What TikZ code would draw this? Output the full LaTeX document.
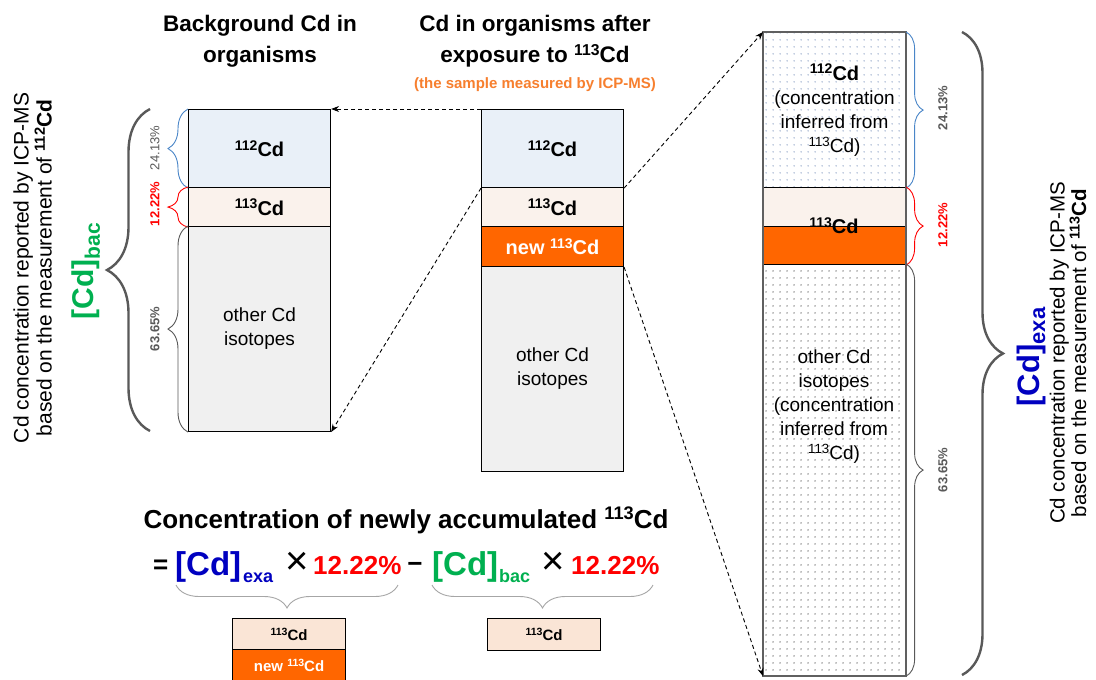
\documentclass[tikz,border=0pt]{standalone}
\usepackage{fontspec}
\setmainfont{Liberation Sans}
\usetikzlibrary{decorations.pathreplacing,arrows.meta,patterns}
\definecolor{c112}{HTML}{E9F0F8}
\definecolor{c113}{HTML}{FAF2EC}
\definecolor{c113b}{HTML}{FAE5D6}
\definecolor{cother}{HTML}{F0F0F0}
\definecolor{corange}{HTML}{FF6600}
\definecolor{csub}{HTML}{F77F2E}
\definecolor{cdblue}{HTML}{0000C0}
\definecolor{cdgreen}{HTML}{00B050}
\definecolor{cdred}{HTML}{FF0000}
\definecolor{bgrey}{HTML}{595959}
\definecolor{fgrey}{HTML}{A6A6A6}
\definecolor{lgrey}{HTML}{595959}
\definecolor{bblue}{HTML}{4A86C8}
\definecolor{dotblue}{HTML}{5A78AA}
\definecolor{dotgrey}{HTML}{404040}
\definecolor{rborder}{HTML}{606060}
\pgfdeclarepatternformonly{cddots}{\pgfqpoint{0pt}{0pt}}{\pgfqpoint{7pt}{7pt}}{\pgfqpoint{7pt}{7pt}}{\pgfpathcircle{\pgfqpoint{3.5pt}{3.5pt}}{0.75pt}\pgfusepath{fill}}
\newcommand\fsz[2]{\fontsize{#1pt}{#2pt}\selectfont}
\makeatletter
\newcommand\iso[1]{\raisebox{0.32em}{\fontsize{\strip@pt\dimexpr0.7\dimexpr\f@size pt\relax\relax}{0}\selectfont #1}}
\makeatother
\begin{document}
\begin{tikzpicture}[x=1pt,y=-1pt,
  seg/.style={draw=black, line width=1.1pt, minimum width=142pt, inner sep=0pt, anchor=north west, align=center, font=\fsz{19}{24}},
  bseg/.style={draw=black, line width=1.1pt, minimum width=113pt, inner sep=0pt, anchor=north west, align=center, font=\fsz{15}{15}\bfseries},
  conn/.style={draw=black, line width=0.9pt, dash pattern=on 4pt off 3pt, -{Stealth[length=8pt,width=6pt]}},
  bigbrace/.style={decorate, decoration={brace, amplitude=#1}, draw=bgrey, line width=2.4pt},
  smallbrace/.style={decorate, decoration={brace, amplitude=#1}, line width=0.9pt},
  fbrace/.style={decorate, decoration={brace, amplitude=23pt}, draw=fgrey, line width=0.9pt},
  pct/.style={rotate=90, inner sep=0pt, font=\fsz{13}{13}},
  title/.style={align=center, inner sep=0pt, font=\fsz{22.5}{31}\bfseries},
  side/.style={rotate=90, align=center, inner sep=0pt, font=\fsz{21}{23}},
  term/.style={anchor=base west, inner sep=0pt, font=\bfseries},
]
\fill[white] (0,0) rectangle (1096,680);
\useasboundingbox (0,0) rectangle (1096,680);

% titles
\node[title] (t1) at (260,41.5) {Background Cd in\\organisms};
\node[title] (t2) at (535,41.5) {Cd in organisms after\\exposure to \iso{113}Cd};
\node[anchor=base, inner sep=0pt, text=csub, font=\fsz{15}{15}\bfseries] (t2s) at (535,88) {(the sample measured by ICP-MS)};

% left box
\node[seg, fill=c112, minimum height=78pt] (l112) at (188,109) {\textbf{\fsz{20}{24}\iso{112}Cd}};
\node[seg, fill=c113, minimum height=39pt] (l113) at (188,187) {\textbf{\fsz{20}{24}\iso{113}Cd}};
\node[seg, fill=cother, minimum height=205pt] (lother) at (188,226) {other Cd\\isotopes};

% middle box
\node[seg, fill=c112, minimum height=78pt] (m112) at (481,109) {\textbf{\fsz{20}{24}\iso{112}Cd}};
\node[seg, fill=c113, minimum height=39pt] (m113) at (481,187) {\textbf{\fsz{20}{24}\iso{113}Cd}};
\node[seg, fill=corange, minimum height=40pt, text=white] (mnew) at (481,226) {\textbf{\fsz{20}{24}new \iso{113}Cd}};
\node[seg, fill=cother, minimum height=205pt] (mother) at (481,266) {other Cd\\isotopes};

% right box
\node[seg, preaction={fill=white}, pattern=cddots, pattern color=dotblue, minimum height=155pt] (r112) at (763,32) {\textbf{\fsz{20}{24}\iso{112}Cd}\\(concentration\\inferred from\\\iso{113}Cd)};
\node[seg, fill=c113, minimum height=39pt] (r113) at (763,187) {};
\node[seg, fill=corange, minimum height=38pt] (rnew) at (763,226) {};
\node[seg, preaction={fill=white}, pattern=cddots, pattern color=dotgrey, minimum height=411pt] (rother) at (763,264) {};
\draw[rborder, line width=1.6pt] (r112.north west) rectangle (rother.south east);
\node[inner sep=0pt, font=\fsz{20}{20}\bfseries] (rlab) at (834,226) {\iso{113}Cd};
\node[inner sep=0pt, align=center, font=\fsz{19}{24}] (rotxt) at (834,407) {other Cd\\isotopes\\(concentration\\inferred from\\\iso{113}Cd)};

% dashed connectors
\draw[conn] (m112.north west) -- (l112.north east);
\draw[conn] (m112.south west) -- (lother.south east);
\draw[conn] (m112.south east) -- (r112.north west);
\draw[conn] (mnew.south east) -- (rother.south west);

% left braces
\draw[smallbrace=20pt, draw=bblue] (l112.south west) -- (l112.north west);
\draw[smallbrace=20pt, draw=cdred] (l113.south west) -- (l113.north west);
\draw[smallbrace=20pt, draw=bgrey] (lother.south west) -- (lother.north west);
\node[pct, text=lgrey] (lp1) at (155,148) {24.13\%};
\node[pct, text=cdred, font=\fsz{13}{13}\bfseries] (lp2) at (155,204) {12.22\%};
\node[pct, text=lgrey, font=\fsz{13}{13}\bfseries] (lp3) at (155,329) {63.65\%};
\coordinate (lbt) at (150,109);
\coordinate (lbb) at (150,431);
\draw[bigbrace=43pt] (lbb) -- (lbt);
\node[rotate=90, inner sep=0pt, text=cdgreen, font=\bfseries] (bacl) at (86,271) {\fsz{30}{30}[Cd]\raisebox{-6pt}{\fsz{21}{21}bac}};
\node[side] (ltxt) at (32.5,268) {Cd concentration reported by ICP-MS\\based on the measurement of \textbf{\iso{112}Cd}};

% right braces
\draw[smallbrace=17pt, draw=bblue] (r112.north east) -- (r112.south east);
\draw[smallbrace=17pt, draw=cdred] (r113.north east) -- (rnew.south east);
\draw[smallbrace=17pt, draw=bgrey] (rother.north east) -- (rother.south east);
\node[pct, text=lgrey, font=\fsz{13}{13}\bfseries] (rp1) at (943,108) {24.13\%};
\node[pct, text=cdred, font=\fsz{13}{13}\bfseries] (rp2) at (943,225) {12.22\%};
\node[pct, text=lgrey, font=\fsz{13}{13}\bfseries] (rp3) at (943,470) {63.65\%};
\coordinate (rbt) at (962,32);
\coordinate (rbb) at (962,675);
\draw[bigbrace=41pt] (rbt) -- (rbb);
\node[rotate=90, inner sep=0pt, text=cdblue, font=\bfseries] (exar) at (1031,357) {\fsz{31}{31}[Cd]\raisebox{-6pt}{\fsz{22}{22}exa}};
\node[side, font=\fsz{20.5}{21.5}] (rtxt) at (1068,353) {Cd concentration reported by ICP-MS\\based on the measurement of \textbf{\iso{113}Cd}};

% formula
\node[anchor=base, inner sep=0pt, font=\fsz{26}{26}\bfseries] (head) at (406,528) {Concentration of newly accumulated \iso{113}Cd};
\node[term, font=\fsz{26}{26}\bfseries] (eq) at (153,573) {=};
\node[term, text=cdblue, font=\fsz{33}{33}\bfseries] (cdexa) at (175,575) {[Cd]};
\node[term, text=cdblue, font=\fsz{18}{18}\bfseries] (exa) at (243,582) {exa};
\node[inner sep=0pt, font=\fsz{40}{40}] (times1) at (297,563) {×};
\node[term, text=cdred, font=\fsz{26}{26}\bfseries] (pcta) at (313,574) {12.22\%};
\node[inner sep=0pt, font=\fsz{26}{26}\bfseries] (minus) at (415,567) {−};
\node[term, text=cdgreen, font=\fsz{33}{33}\bfseries] (cdbac) at (432,575) {[Cd]};
\node[term, text=cdgreen, font=\fsz{18}{18}\bfseries] (bac) at (499,582) {bac};
\node[inner sep=0pt, font=\fsz{40}{40}] (times2) at (553,563) {×};
\node[term, text=cdred, font=\fsz{26}{26}\bfseries] (pctb) at (571,574) {12.22\%};
\coordinate (fb1l) at (176,585);
\coordinate (fb1r) at (398,585);
\coordinate (fb2l) at (432,585);
\coordinate (fb2r) at (653,585);
\draw[fbrace] (fb1r) -- (fb1l);
\draw[fbrace] (fb2r) -- (fb2l);

% bottom boxes
\node[bseg, fill=c113b, minimum height=31pt] (b113a) at (232,618) {\iso{113}Cd};
\node[bseg, fill=corange, minimum height=31pt, text=white] (bnew) at (232,649) {new \iso{113}Cd};
\node[bseg, fill=c113b, minimum height=32pt] (b113b) at (487,618) {\iso{113}Cd};
\end{tikzpicture}
\end{document}
